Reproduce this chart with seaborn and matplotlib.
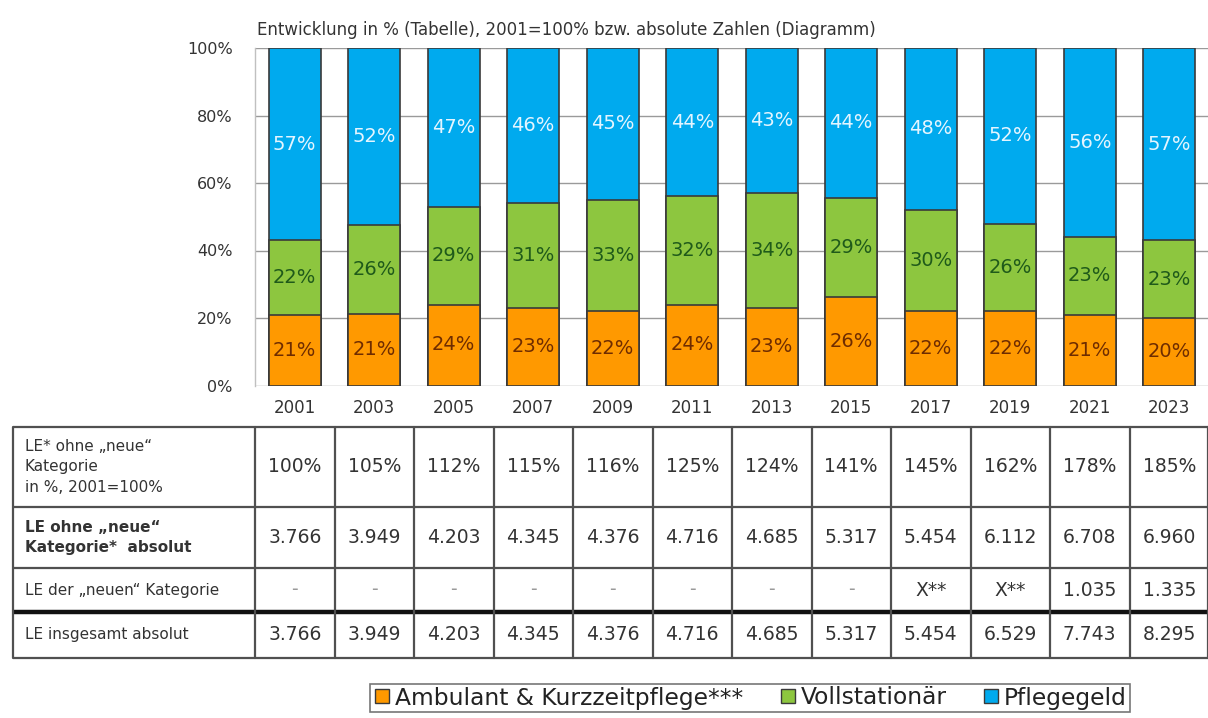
import matplotlib
matplotlib.use("Agg")
import matplotlib.pyplot as plt
from matplotlib.lines import Line2D
import numpy as np
import pandas as pd
import seaborn as sns

# ---- data -------------------------------------------------------------
years = ["2001", "2003", "2005", "2007", "2009", "2011",
         "2013", "2015", "2017", "2019", "2021", "2023"]
ambulant = [21, 21, 24, 23, 22, 24, 23, 26, 22, 22, 21, 20]
vollstationaer = [22, 26, 29, 31, 33, 32, 34, 29, 30, 26, 23, 23]
pflegegeld = [57, 52, 47, 46, 45, 44, 43, 44, 48, 52, 56, 57]

series_names = ["Ambulant & Kurzzeitpflege***", "Vollstationär", "Pflegegeld"]

row_labels = ["LE* ohne „neue“\nKategorie\nin %, 2001=100%",
              "LE ohne „neue“\nKategorie*  absolut",
              "LE der „neuen“ Kategorie",
              "LE insgesamt absolut"]
idx_pct = ["100%", "105%", "112%", "115%", "116%", "125%",
           "124%", "141%", "145%", "162%", "178%", "185%"]
le_ohne = ["3.766", "3.949", "4.203", "4.345", "4.376", "4.716",
           "4.685", "5.317", "5.454", "6.112", "6.708", "6.960"]
le_neu = ["-", "-", "-", "-", "-", "-", "-", "-", "X**", "X**", "1.035", "1.335"]
le_ges = ["3.766", "3.949", "4.203", "4.345", "4.376", "4.716",
          "4.685", "5.317", "5.454", "6.529", "7.743", "8.295"]

title = "Entwicklung in % (Tabelle), 2001=100% bzw. absolute Zahlen (Diagramm)"

# ---- styling ----------------------------------------------------------
C_ORANGE = "#FF9900"
C_GREEN = "#8DC63F"
C_BLUE = "#00AAEE"
LBL_COLORS = ["#6E2C00", "#1F5A1A", "#E4F5FF"]
TXT = "#333333"

sns.set_style("white")
plt.rcParams["font.family"] = ["DejaVu Sans"]

W, H = 1208, 718
fig = plt.figure(figsize=(W / 100, H / 100), dpi=100)

# layout in pixels
AX_L, AX_R = 255, 1209
AX_TOP, AX_BOT = 48, 385.5
step = (AX_R - AX_L) / len(years)

ax = fig.add_axes([AX_L / W, 1 - AX_BOT / H, (AX_R - AX_L) / W, (AX_BOT - AX_TOP) / H])

# 100% stacked shares
a = np.array(ambulant, float)
v = np.array(vollstationaer, float)
p = np.array(pflegegeld, float)
tot = a + v + p
df = pd.DataFrame({
    "year": years,
    "c1": a / tot,
    "c2": (a + v) / tot,
    "c3": (a + v + p) / tot,
})

for col, colr in [("c3", C_BLUE), ("c2", C_GREEN), ("c1", C_ORANGE)]:
    sns.barplot(data=df, x="year", y=col, order=years, color=colr,
                width=0.655, edgecolor="#3a3a3a", linewidth=1.2,
                saturation=1, ax=ax, zorder=2)

# segment labels
segs = [(np.zeros(len(years)), df["c1"].values, ambulant),
        (df["c1"].values, df["c2"].values, vollstationaer),
        (df["c2"].values, df["c3"].values, pflegegeld)]
for (lo, hi, vals), tc in zip(segs, LBL_COLORS):
    for i, val in enumerate(vals):
        ax.text(i, (lo[i] + hi[i]) / 2, f"{val}%", ha="center", va="center",
                fontsize=14, color=tc, zorder=3)

ax.set_xlim(-0.5, len(years) - 0.5)
ax.set_ylim(0, 1)
ax.set_yticks(np.linspace(0, 1, 6))
ax.set_yticklabels([f"{int(t)}%" for t in np.linspace(0, 100, 6)])
ax.tick_params(axis="y", length=0, pad=16, labelsize=11.5, labelcolor=TXT)
ax.tick_params(axis="x", length=0, pad=10, labelsize=12, labelcolor=TXT)
ax.set_xlabel("")
ax.set_ylabel("")
ax.yaxis.grid(True, color="#9a9a9a", linewidth=1)
ax.set_axisbelow(True)
for s in ["top", "right", "bottom"]:
    ax.spines[s].set_visible(False)
ax.spines["left"].set_color("#c0c0c0")
ax.spines["left"].set_linewidth(1)

fig.text(257 / W, 1 - 30 / H, title, ha="left", va="center", fontsize=12, color=TXT)

# ---- table --------------------------------------------------------------
tab = fig.add_axes([0, 0, 1, 1], zorder=-1)
tab.set_xlim(0, W)
tab.set_ylim(H, 0)
tab.axis("off")

T_L, T_R = 13, 1208
rows_y = [427, 507, 568, 612, 658]
LC = "#505050"
for k, y in enumerate(rows_y):
    lw = 3.2 if k == 3 else 1.6
    c = "#111111" if k == 3 else LC
    tab.plot([T_L, T_R], [y, y], color=c, lw=lw, solid_capstyle="butt")
col_x = [T_L, AX_L] + [AX_L + step * (i + 1) for i in range(len(years) - 1)] + [T_R]
for x in col_x:
    tab.plot([x, x], [rows_y[0], rows_y[-1]], color=LC, lw=1.6)

row_vals = [idx_pct, le_ohne, le_neu, le_ges]
for r, (lab, vals) in enumerate(zip(row_labels, row_vals)):
    yc = (rows_y[r] + rows_y[r + 1]) / 2
    tab.text(25, yc, lab, ha="left", va="center", fontsize=11,
             color=TXT, fontweight="bold" if r == 1 else "normal", linespacing=1.45)
    for i, val in enumerate(vals):
        xc = AX_L + step * (i + 0.5)
        col = "#9a9a9a" if val == "-" else TXT
        tab.text(xc, yc, val, ha="center", va="center",
                 fontsize=13.5, color=col)

# ---- legend -------------------------------------------------------------
handles = [Line2D([], [], marker="s", linestyle="none", markersize=10,
                  markerfacecolor=c, markeredgecolor="#3a3a3a", markeredgewidth=1)
           for c in (C_ORANGE, C_GREEN, C_BLUE)]
leg = fig.legend(handles, series_names, loc="center", ncol=3,
                 bbox_to_anchor=(750 / W, 1 - 698 / H), fontsize=16.8,
                 frameon=True, fancybox=False, edgecolor="#555555",
                 handlelength=0.8, handletextpad=0.15, columnspacing=1.5,
                 borderpad=0.12, labelcolor="#222222")
leg.get_frame().set_linewidth(1.2)

fig.savefig("out.png", dpi=100, facecolor="white")
